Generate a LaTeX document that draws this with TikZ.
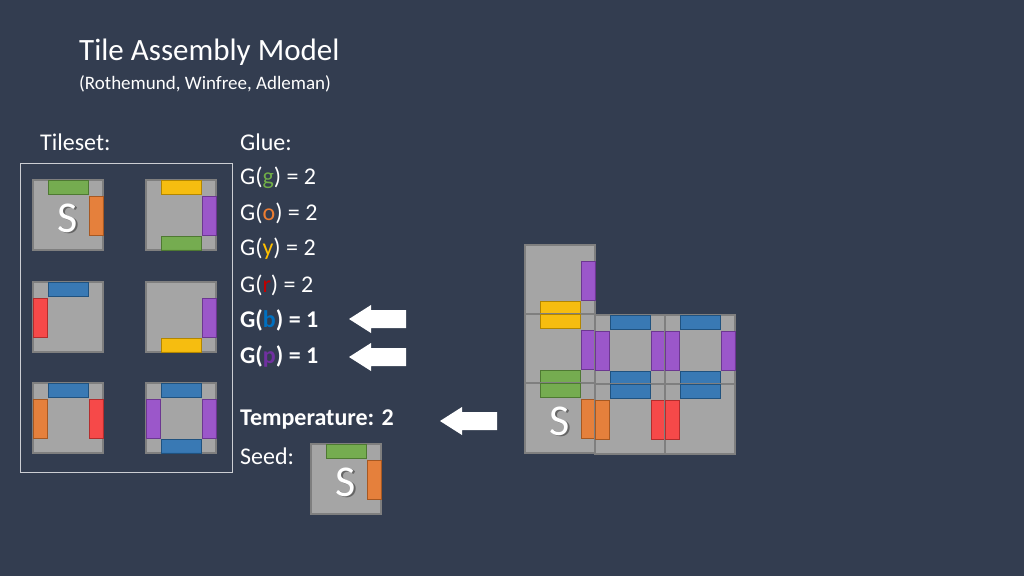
\documentclass[tikz,border=0pt]{standalone}
\usepackage{fontspec}
\setmainfont{Carlito}
\begin{document}
\begin{tikzpicture}[x=1pt,y=-1pt]
\definecolor{bg}{HTML}{333D50}
\definecolor{tilef}{HTML}{A5A5A5}
\definecolor{tiled}{HTML}{7F7F7F}
\definecolor{gG}{HTML}{70AD47}
\definecolor{gO}{HTML}{ED7D31}
\definecolor{gY}{HTML}{FFC000}
\definecolor{gR}{HTML}{FF4040}
\definecolor{gB}{HTML}{2E75B6}
\definecolor{gP}{HTML}{9B4FCF}
\definecolor{tR}{HTML}{C00000}
\definecolor{tB}{HTML}{0070C0}
\definecolor{tP}{HTML}{7030A0}
\tikzset{tilebox/.style={fill=tilef,draw=tiled,line width=1.2pt},
 gluebox/.style={fill=#1,draw=#1!70!black,line width=0.6pt,fill opacity=0.9},
 txt/.style={text=white,anchor=west,font=\fontsize{24}{28}\selectfont,inner sep=0pt},
 bigarrow/.style={fill=white,draw=none}}
\newcommand\tbox[2]{\draw[tilebox] (#1,#2) rectangle ++(70,70);}
\newcommand\gtop[3]{\draw[gluebox=#3] (#1+15,#2) rectangle (#1+55,#2+14);}
\newcommand\grt[3]{\draw[gluebox=#3] (#1+56,#2+16) rectangle (#1+70,#2+55);}
\newcommand\gbot[3]{\draw[gluebox=#3] (#1+15,#2+56) rectangle (#1+55,#2+70);}
\newcommand\glf[3]{\draw[gluebox=#3] (#1,#2+16) rectangle (#1+14,#2+55);}
\newcommand\sletter[3]{\node[text=black!60,font=\fontsize{44}{44}\selectfont,inner sep=0pt] at (#1+36.5,#2+39.5) {S};
 \node[text=white,font=\fontsize{44}{44}\selectfont,inner sep=0pt] (#3) at (#1+35,#2+38) {S};}
\fill[bg] (0,0) rectangle (1024,576);
\useasboundingbox (0,0) rectangle (1024,576);
% titles
\node[txt,font=\fontsize{31}{34}\selectfont] (title) at (79,52) {Tile Assembly Model};
\node[txt,font=\fontsize{19}{22}\selectfont] (authors) at (79,84) {(Rothemund, Winfree, Adleman)};
\node[txt] (tileset) at (40,142) {Tileset:};
\node[txt] (glue) at (240,142) {Glue:};
\node[txt] (g1) at (240,178) {G(\textcolor{gG}{g}) = 2};
\node[txt] (g2) at (240,213) {G(\textcolor{gO}{o}) = 2};
\node[txt] (g3) at (240,249) {G(\textcolor{gY}{y}) = 2};
\node[txt] (g4) at (240,285) {G(\textcolor{tR}{r}) = 2};
\node[txt] (g5) at (240,320) {\textbf{G(\textcolor{tB}{b}) = 1}};
\node[txt] (g6) at (240,356) {\textbf{G(\textcolor{tP}{p}) = 1}};
\node[txt] (temp) at (240,420) {\textbf{Temperature: 2}};
\node[txt] (seed) at (240,456) {Seed:};
% arrows
\newcommand\barrow[3]{\fill[bigarrow] (#1,#2) -- (#1+22,#2-14) -- (#1+22,#2-9) -- (#3,#2-9) -- (#3,#2+9) -- (#1+22,#2+9) -- (#1+22,#2+14) -- cycle;}
\barrow{349}{319}{406}
\barrow{349}{357}{406}
\barrow{440}{421}{497}
% tileset frame
\draw[draw=white!75!bg,line width=1pt] (20,163) rectangle (232,472);
\tbox{33}{180}\gtop{33}{180}{gG}\grt{33}{180}{gO}\sletter{33}{180}{s1}
\tbox{146}{180}\gtop{146}{180}{gY}\grt{146}{180}{gP}\gbot{146}{180}{gG}
\tbox{33}{282}\gtop{33}{282}{gB}\glf{33}{282}{gR}
\tbox{146}{282}\grt{146}{282}{gP}\gbot{146}{282}{gY}
\tbox{33}{383}\gtop{33}{383}{gB}\glf{33}{383}{gO}\grt{33}{383}{gR}
\tbox{146}{383}\gtop{146}{383}{gB}\glf{146}{383}{gP}\grt{146}{383}{gP}\gbot{146}{383}{gB}
% seed
\tbox{311}{444}\gtop{311}{444}{gG}\grt{311}{444}{gO}\sletter{311}{444}{s2}
% assembly
\tbox{525}{245}\grt{525}{245}{gP}\gbot{525}{245}{gY}
\tbox{525}{314}\gtop{525}{314}{gY}\grt{525}{314}{gP}\gbot{525}{314}{gG}
\tbox{525}{383}\gtop{525}{383}{gG}\grt{525}{383}{gO}
\tbox{595}{315}\gtop{595}{315}{gB}\glf{595}{315}{gP}\grt{595}{315}{gP}\gbot{595}{315}{gB}
\tbox{665}{315}\gtop{665}{315}{gB}\glf{665}{315}{gP}\grt{665}{315}{gP}\gbot{665}{315}{gB}
\tbox{595}{384}\gtop{595}{384}{gB}\glf{595}{384}{gO}\grt{595}{384}{gR}
\tbox{665}{384}\gtop{665}{384}{gB}\glf{665}{384}{gR}
\sletter{525}{383}{s3}
\end{tikzpicture}
\end{document}
